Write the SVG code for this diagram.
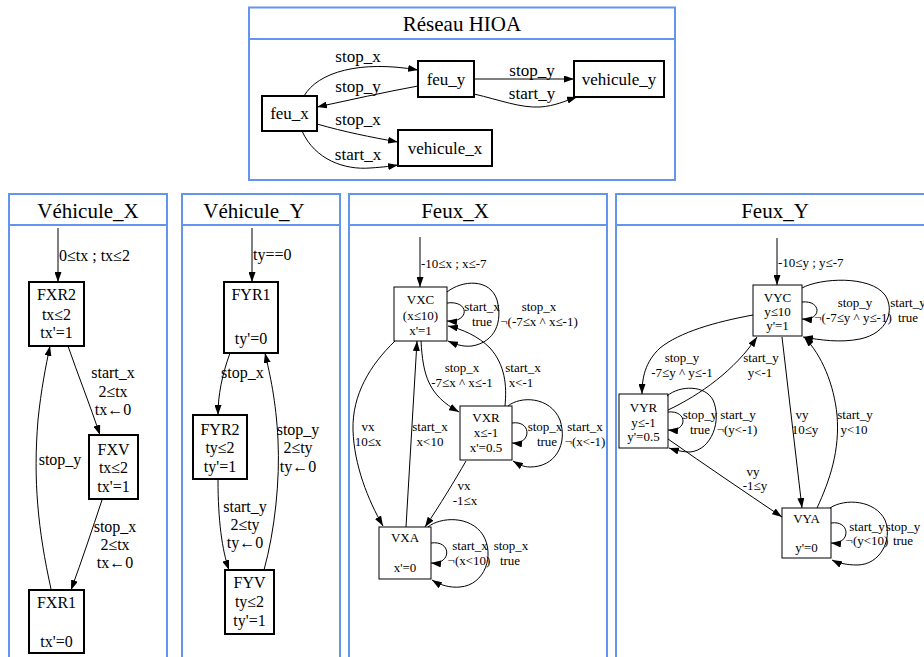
<svg xmlns="http://www.w3.org/2000/svg" width="924" height="657" viewBox="0 0 924 657" font-family="'Liberation Serif', 'DejaVu Serif', serif">
<style>
.panel{fill:#fff;stroke:#6495ED;stroke-width:2}
.sep{stroke:#6495ED;stroke-width:2}
text{font-family:'Liberation Serif','DejaVu Serif',serif;fill:#000}
.ttl{font-size:21px;text-anchor:middle}
.a{font-size:17px;text-anchor:middle}
.b{font-size:16px;text-anchor:middle}
.c{font-size:13px;text-anchor:middle}
.s{text-anchor:start}
.thick{fill:#fff;stroke:#000;stroke-width:2}
.thin{fill:#fff;stroke:#000;stroke-width:1}
.e{fill:none;stroke:#000;stroke-width:1;marker-end:url(#arr)}
</style>
<defs>
<marker id="arr" markerUnits="userSpaceOnUse" markerWidth="10" markerHeight="7" refX="10" refY="3.5" orient="auto">
<path d="M0,0 L10,3.5 L0,7 z" fill="#000"/>
</marker>
</defs>
<rect width="924" height="657" fill="#fff"/>

<!-- Top panel -->
<g id="reseau">
<rect class="panel" x="249" y="7.5" width="426" height="172.5"/>
<line class="sep" x1="249" y1="39" x2="675" y2="39"/>
<text class="ttl" x="462" y="31">Réseau HIOA</text>
</g>
<g id="feu_y"><rect class="thick" x="418" y="61" width="56" height="36"/><text class="a" x="446" y="85">feu_y</text></g>
<g id="vehicule_y"><rect class="thick" x="574" y="61" width="90" height="36"/><text class="a" x="619" y="85">vehicule_y</text></g>
<g id="feu_x"><rect class="thick" x="262" y="96" width="55" height="35"/><text class="a" x="289.5" y="119">feu_x</text></g>
<g id="vehicule_x"><rect class="thick" x="398" y="130" width="94" height="36"/><text class="a" x="445" y="154">vehicule_x</text></g>
<g id="top-connectors">
<path class="e" d="M304,96 C318,72 360,60 418,70"/>
<path class="e" d="M418,86 C385,92 350,100 317,107"/>
<path class="e" d="M474,79 L574,79"/>
<path class="e" d="M474,94 C500,100 520,108 540,107 C555,106 565,101 577,97"/>
<path class="e" d="M317,124 C345,132 370,137 398,142"/>
<path class="e" d="M302,131 C315,160 345,170 370,168 C385,167 392,166 398,165"/>
<text class="a" x="358" y="62">stop_x</text>
<text class="a" x="358" y="92">stop_y</text>
<text class="a" x="532" y="76">stop_y</text>
<text class="a" x="532" y="99">start_y</text>
<text class="a" x="358" y="125">stop_x</text>
<text class="a" x="358" y="160">start_x</text>
</g>

<!-- Vehicule_X -->
<g id="vehicule_X_panel">
<rect class="panel" x="9" y="194" width="158" height="480"/>
<line class="sep" x1="9" y1="225" x2="167" y2="225"/>
<text class="ttl" x="88" y="218">Véhicule_X</text>
</g>
<g id="FXR2"><rect class="thick" x="29" y="282" width="55" height="64"/>
<text class="b" x="56.5" y="300">FXR2</text><text class="b" x="56.5" y="320">tx≤2</text><text class="b" x="56.5" y="338">tx'=1</text></g>
<g id="FXV"><rect class="thick" x="89" y="435" width="49" height="64"/>
<text class="b" x="113.5" y="455">FXV</text><text class="b" x="113.5" y="473">tx≤2</text><text class="b" x="113.5" y="492">tx'=1</text></g>
<g id="FXR1"><rect class="thick" x="29" y="590" width="55" height="63"/>
<text class="b" x="56.5" y="608">FXR1</text><text class="b" x="56.5" y="647">tx'=0</text></g>
<g id="vx-connectors">
<path class="e" d="M58,228 L58,282"/>
<text class="b s" x="59" y="261">0≤tx ; tx≤2</text>
<path class="e" d="M68,346 C78,375 90,405 100,435"/>
<text class="b" x="113" y="378">start_x</text><text class="b" x="113" y="397">2≤tx</text><text class="b" x="113" y="415">tx←0</text>
<path class="e" d="M102,500 C92,530 82,560 71,590"/>
<text class="b" x="115" y="532">stop_x</text><text class="b" x="115" y="550">2≤tx</text><text class="b" x="115" y="568">tx←0</text>
<path class="e" d="M51,589 C38,530 33,480 38,420 C41,390 46,365 50,346"/>
<text class="b" x="60" y="465">stop_y</text>
</g>

<!-- Vehicule_Y -->
<g id="vehicule_Y_panel">
<rect class="panel" x="182" y="194" width="158" height="480"/>
<line class="sep" x1="182" y1="225" x2="340" y2="225"/>
<text class="ttl" x="254" y="218">Véhicule_Y</text>
</g>
<g id="FYR1"><rect class="thick" x="224" y="282" width="54" height="71"/>
<text class="b" x="251" y="300">FYR1</text><text class="b" x="251" y="344">ty'=0</text></g>
<g id="FYR2"><rect class="thick" x="193" y="415" width="54" height="64"/>
<text class="b" x="220" y="435">FYR2</text><text class="b" x="220" y="453">ty≤2</text><text class="b" x="220" y="472">ty'=1</text></g>
<g id="FYV"><rect class="thick" x="225" y="570" width="49" height="64"/>
<text class="b" x="249.5" y="588">FYV</text><text class="b" x="249.5" y="607">ty≤2</text><text class="b" x="249.5" y="626">ty'=1</text></g>
<g id="vy-connectors">
<path class="e" d="M252,228 L252,282"/>
<text class="b s" x="253" y="260">ty==0</text>
<path class="e" d="M230,353 C222,375 218,395 218,415"/>
<text class="b s" x="221" y="378">stop_x</text>
<path class="e" d="M218,480 C218,520 222,550 229,570"/>
<text class="b" x="245" y="512">start_y</text><text class="b" x="245" y="530">2≤ty</text><text class="b" x="245" y="548">ty←0</text>
<path class="e" d="M264,570 C275,530 280,480 278,440 C276,400 270,375 265,353"/>
<text class="b" x="298" y="435">stop_y</text><text class="b" x="298" y="453">2≤ty</text><text class="b" x="298" y="472">ty←0</text>
</g>

<!-- Feux_X -->
<g id="feux_X_panel">
<rect class="panel" x="349" y="194" width="258" height="480"/>
<line class="sep" x1="349" y1="225" x2="607" y2="225"/>
<text class="ttl" x="455" y="218">Feux_X</text>
</g>
<g id="VXC"><rect class="thin" x="394" y="287" width="53" height="54"/>
<text class="c" x="420.5" y="304">VXC</text><text class="c" x="420.5" y="320">(x≤10)</text><text class="c" x="420.5" y="335">x'=1</text></g>
<g id="VXR"><rect class="thin" x="460" y="406" width="52" height="54"/>
<text class="c" x="486" y="422">VXR</text><text class="c" x="486" y="437">x≤-1</text><text class="c" x="486" y="452">x'=0.5</text></g>
<g id="VXA"><rect class="thin" x="379" y="527" width="52" height="52"/>
<text class="c" x="405" y="542">VXA</text><text class="c" x="405" y="572">x'=0</text></g>
<g id="fx-connectors">
<path class="e" d="M420,237 L420,287"/>
<text class="c s" x="421" y="268">-10≤x ; x≤-7</text>
<path class="e" d="M447,303 C470,300 470,323 447,321"/>
<text class="c" x="482" y="311">start_x</text><text class="c" x="482" y="326">true</text>
<path class="e" d="M447,292 C462,280 490,278 497,300 C503,322 495,342 472,346 C462,347 455,344 448,341"/>
<text class="c" x="539" y="311">stop_x</text><text class="c" x="539" y="326">¬(-7≤x ^ x≤-1)</text>
<path class="e" d="M421,341 C423,375 428,395 459,412"/>
<text class="c" x="462" y="372">stop_x</text><text class="c" x="462" y="387">-7≤x ^ x≤-1</text>
<path class="e" d="M505,406 C507,385 505,365 490,348 C478,336 462,329 448,326"/>
<text class="c" x="523" y="372">start_x</text><text class="c" x="521" y="387">x&lt;-1</text>
<path class="e" d="M512,423 C532,420 532,445 512,443"/>
<text class="c" x="545" y="431">stop_x</text><text class="c" x="547" y="446">true</text>
<path class="e" d="M508,406 C520,396 550,396 560,420 C568,445 555,467 530,467 C523,467 518,464 513,461"/>
<text class="c" x="585" y="431">start_x</text><text class="c" x="585" y="446">¬(x&lt;-1)</text>
<path class="e" d="M395,341 C370,365 352,395 353,430 C354,465 368,500 383,526"/>
<text class="c" x="368" y="431">vx</text><text class="c" x="368" y="446">10≤x</text>
<path class="e" d="M406,527 L417,341"/>
<text class="c" x="430" y="431">start_x</text><text class="c" x="430" y="446">x&lt;10</text>
<path class="e" d="M466,461 C455,480 440,505 425,527"/>
<text class="c" x="464" y="490">vx</text><text class="c" x="465" y="505">-1≤x</text>
<path class="e" d="M431,543 C452,540 452,565 431,563"/>
<text class="c" x="470" y="550">start_x</text><text class="c" x="469" y="565">¬(x&lt;10)</text>
<path class="e" d="M428,527 C440,517 470,515 483,535 C495,555 485,585 460,587 C450,588 440,585 432,580"/>
<text class="c" x="511" y="550">stop_x</text><text class="c" x="510" y="565">true</text>
</g>

<!-- Feux_Y -->
<g id="feux_Y_panel">
<rect class="panel" x="616" y="194" width="330" height="480"/>
<line class="sep" x1="616" y1="225" x2="930" y2="225"/>
<text class="ttl" x="775" y="218">Feux_Y</text>
</g>
<g id="VYC"><rect class="thin" x="753" y="285" width="49" height="51"/>
<text class="c" x="777.5" y="302">VYC</text><text class="c" x="777.5" y="316">y≤10</text><text class="c" x="777.5" y="330">y'=1</text></g>
<g id="VYR"><rect class="thin" x="619" y="394" width="49" height="54"/>
<text class="c" x="643.5" y="412">VYR</text><text class="c" x="643.5" y="427">y≤-1</text><text class="c" x="643.5" y="441">y'=0.5</text></g>
<g id="VYA"><rect class="thin" x="782" y="508" width="49" height="50"/>
<text class="c" x="806.5" y="523">VYA</text><text class="c" x="806.5" y="552">y'=0</text></g>
<g id="fy-connectors">
<path class="e" d="M777,238 L777,285"/>
<text class="c s" x="778" y="267">-10≤y ; y≤-7</text>
<path class="e" d="M802,302 C822,300 822,321 802,319"/>
<text class="c" x="855" y="307">stop_y</text><text class="c" x="853" y="322">¬(-7≤y ^ y≤-1)</text>
<path class="e" d="M802,288 C820,278 870,275 885,295 C895,310 888,333 860,339 C840,343 820,340 803,337"/>
<text class="c" x="908" y="307">start_y</text><text class="c" x="908" y="322">true</text>
<path class="e" d="M753,315 C715,322 680,332 660,348 C645,362 642,378 642,394"/>
<text class="c" x="682" y="362">stop_y</text><text class="c" x="682" y="377">-7≤y ^ y≤-1</text>
<path class="e" d="M668,410 C700,395 735,370 757,337"/>
<text class="c" x="761" y="362">start_y</text><text class="c" x="760" y="377">y&lt;-1</text>
<path class="e" d="M668,412 C688,410 688,432 668,430"/>
<text class="c" x="700" y="419">stop_y</text><text class="c" x="700" y="434">true</text>
<path class="e" d="M667,396 C680,385 705,385 713,400 C722,420 712,450 690,452 C682,452 675,450 669,448"/>
<text class="c" x="738" y="419">start_y</text><text class="c" x="737" y="434">¬(y&lt;-1)</text>
<path class="e" d="M782,337 L802,508"/>
<text class="c" x="802" y="419">vy</text><text class="c" x="805" y="434">10≤y</text>
<path class="e" d="M817,508 C830,480 840,450 837,415 C834,385 822,355 804,337"/>
<text class="c" x="855" y="419">start_y</text><text class="c" x="854" y="434">y&lt;10</text>
<path class="e" d="M668,439 C705,465 745,492 782,517"/>
<text class="c" x="753" y="476">vy</text><text class="c" x="755" y="490">-1≤y</text>
<path class="e" d="M831,523 C851,520 851,545 831,543"/>
<text class="c" x="867" y="531">start_y</text><text class="c" x="867" y="545">¬(y&lt;10)</text>
<path class="e" d="M830,508 C845,498 875,500 885,520 C893,540 880,565 857,565 C847,565 838,563 832,560"/>
<text class="c" x="903" y="531">stop_y</text><text class="c" x="903" y="545">true</text>
</g>
</svg>
